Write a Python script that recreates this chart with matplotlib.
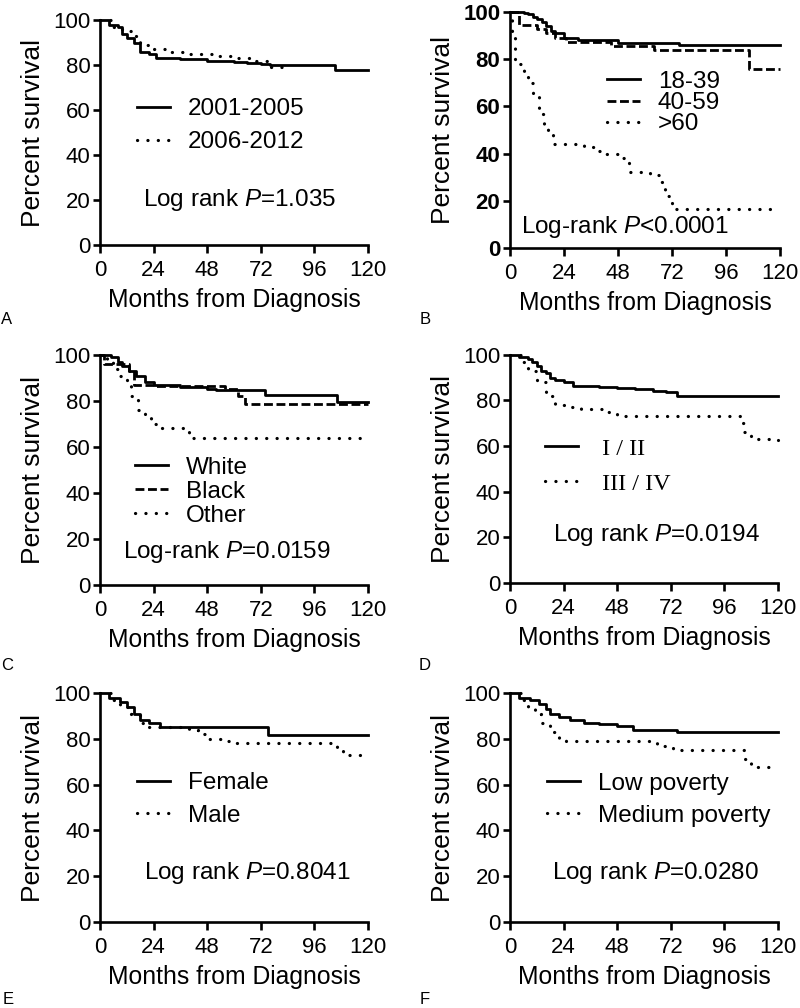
import matplotlib
matplotlib.use('Agg')
import matplotlib.pyplot as plt

plt.rcParams['font.family'] = ['Liberation Sans', 'DejaVu Sans']
plt.rcParams['mathtext.fontset'] = 'custom'
plt.rcParams['mathtext.rm'] = 'Liberation Sans'
plt.rcParams['mathtext.it'] = 'Liberation Sans:italic'

xTicks = [0, 24, 48, 72, 96, 120]
yTicks = [0, 20, 40, 60, 80, 100]

# A: year of diagnosis
a1_t = [0, 4, 8, 10, 12, 15, 18, 22, 25, 36, 48, 60, 66, 72, 76, 105, 120]
a1_s = [100, 98, 97, 94, 92, 90, 86, 85, 83, 82.5, 82, 81.5, 81, 80.5, 80, 78, 78]
a2_t = [0, 6, 10, 14, 18, 22, 30, 40, 50, 60, 70, 76, 82]
a2_s = [100, 97, 95, 93, 89, 87, 86, 85, 84, 83, 82, 79, 79]

# B: age group
b1_t = [0, 6, 8, 10, 12, 14, 16, 18, 20, 24, 30, 48, 73, 75, 120]
b1_s = [100, 99.5, 99, 98, 97, 96, 94, 92, 91, 89, 88, 87, 87, 86, 86]
b2_t = [0, 4, 12, 16, 20, 25, 45, 64, 104, 106, 120]
b2_s = [100, 94.5, 93, 91, 89, 87.5, 85.5, 84, 84, 76, 76]
b3_t = [0, 1, 2, 6, 8, 10, 13, 15, 17, 19, 33, 38, 41, 50, 53, 62, 66, 69, 72, 120]
b3_s = [100, 92, 78, 75, 70, 64, 57, 52, 48, 44, 43, 41, 40, 38, 32, 31, 28, 22, 16.5, 16.5]

# C: race
c1_t = [0, 5, 8, 10, 13, 16, 20, 24, 36, 48, 52, 56, 74, 106, 120]
c1_s = [100, 99, 97, 95, 93, 91, 88, 87, 86, 85, 84.5, 84.5, 82.5, 79.5, 79.5]
c2_t = [0, 2, 10, 13, 15, 24, 56, 62, 65, 120]
c2_s = [100, 96, 96, 93, 87, 86.5, 85, 82, 78.5, 78.5]
c3_t = [0, 3, 6, 9, 12, 14, 17, 20, 23, 27, 38, 40, 120]
c3_s = [100, 97, 94, 91, 87, 82, 76, 73, 70, 68, 68, 64, 64]

# D: stage
d1_t = [0, 4, 8, 10, 12, 14, 16, 18, 20, 24, 28, 40, 48, 56, 64, 70, 75, 120]
d1_s = [100, 99, 98, 97, 95, 93, 92, 90, 89, 88, 86.5, 86, 85.5, 85, 84, 83.5, 82, 82]
d2_t = [0, 5, 8, 12, 16, 20, 24, 32, 44, 48, 101, 103, 105, 108, 120]
d2_s = [100, 97, 93, 88, 82, 78, 77, 76, 75, 73, 73, 70, 66, 63, 62.5]

# E: sex
e1_t = [0, 4, 9, 12, 15, 18, 22, 27, 73, 75, 120]
e1_s = [100, 98, 96, 94, 91, 88, 87, 85, 85, 81.5, 81.5]
e2_t = [0, 6, 9, 14, 18, 22, 40, 44, 49, 56, 60, 103, 106, 109, 120]
e2_s = [100, 97, 94, 91, 87, 85, 84, 82, 80, 79, 78, 78, 75, 73, 73]

# F: poverty
f1_t = [0, 4, 9, 13, 16, 18, 22, 27, 33, 40, 48, 55, 73, 75, 120]
f1_s = [100, 98, 97, 95, 93, 91, 89.5, 88, 87, 86.5, 85.5, 84, 84, 83, 83]
f2_t = [0, 5, 8, 11, 14, 18, 22, 25, 61, 66, 73, 102, 105, 108, 120]
f2_s = [100, 97, 94, 91, 87, 83, 80, 79, 79, 77, 75, 75, 71, 67.5, 67.5]

styles = {'solid': '-', 'dash': (0, (3.2, 1.3)), 'dot': (0, (0.05, 3.2))}


def styleAxis(ax, boldY=False):
    ax.set_xlim(0, 120)
    ax.set_ylim(0, 100)
    ax.set_xticks(xTicks)
    ax.set_yticks(yTicks)
    for s in ['top', 'right']:
        ax.spines[s].set_visible(False)
    for s in ['left', 'bottom']:
        ax.spines[s].set_linewidth(1.9)
    ax.tick_params(axis='x', direction='out', length=6, width=1.9, labelsize=16, pad=5)
    ax.tick_params(axis='y', direction='out', length=5, width=1.9, labelsize=16, pad=2)
    if boldY:
        for lab in ax.get_yticklabels():
            lab.set_fontweight('bold')
    ax.set_xlabel('Months from Diagnosis', fontsize=17.8, labelpad=5)
    ax.set_ylabel('Percent survival', fontsize=19, labelpad=6)


def plotCurves(ax, curves, legAnchor, legSpacing, note, noteXY, legFont=None):
    for t, s, ls, lab in curves:
        ax.plot(t, s, drawstyle='steps-post', color='black',
                lw=2.3 if ls == 'dot' else 2, linestyle=styles[ls], label=lab,
                clip_on=False, dash_capstyle='round' if ls == 'dot' else 'butt')
    leg = ax.legend(loc='center left', bbox_to_anchor=legAnchor, frameon=False,
                    fontsize=17.5, handlelength=1.35, handletextpad=0.75,
                    labelspacing=legSpacing, borderpad=0, borderaxespad=0)
    if legFont:
        for txt in leg.get_texts():
            txt.set_fontfamily(legFont)
    ax.text(noteXY[0], noteXY[1], note, transform=ax.transAxes, fontsize=17.5,
            ha='center', va='center')


fig = plt.figure(figsize=(8, 10.08), dpi=100)
axA = fig.add_axes([0.125, 0.757, 0.335, 0.223])
axB = fig.add_axes([0.6375, 0.754, 0.3375, 0.234])
axC = fig.add_axes([0.125, 0.420, 0.335, 0.228])
axD = fig.add_axes([0.6375, 0.422, 0.335, 0.226])
axE = fig.add_axes([0.125, 0.0853, 0.335, 0.2272])
axF = fig.add_axes([0.6375, 0.0853, 0.335, 0.2272])

styleAxis(axA)
plotCurves(axA, [(a1_t, a1_s, 'solid', '2001-2005'), (a2_t, a2_s, 'dot', '2006-2012')],
           (0.138, 0.531), 0.45, 'Log rank $P$=1.035', (0.522, 0.2))

styleAxis(axB, boldY=True)
plotCurves(axB, [(b1_t, b1_s, 'solid', '18-39'), (b2_t, b2_s, 'dash', '40-59'),
                 (b3_t, b3_s, 'dot', '>60')],
           (0.359, 0.614), -0.03, 'Log-rank $P$<0.0001', (0.426, 0.089))

styleAxis(axC)
plotCurves(axC, [(c1_t, c1_s, 'solid', 'White'), (c2_t, c2_s, 'dash', 'Black'),
                 (c3_t, c3_s, 'dot', 'Other')],
           (0.131, 0.404), 0.08, 'Log-rank $P$=0.0159', (0.474, 0.143))

styleAxis(axD)
plotCurves(axD, [(d1_t, d1_s, 'solid', ' I / II'), (d2_t, d2_s, 'dot', ' III / IV')],
           (0.131, 0.511), 0.53, 'Log rank $P$=0.0194', (0.546, 0.21),
           legFont=['Liberation Serif', 'DejaVu Serif'])

styleAxis(axE)
plotCurves(axE, [(e1_t, e1_s, 'solid', 'Female'), (e2_t, e2_s, 'dot', 'Male')],
           (0.138, 0.535), 0.45, 'Log rank $P$=0.8041', (0.549, 0.214))

styleAxis(axF)
plotCurves(axF, [(f1_t, f1_s, 'solid', 'Low poverty'), (f2_t, f2_s, 'dot', 'Medium poverty')],
           (0.138, 0.533), 0.41, 'Log rank $P$=0.0280', (0.541, 0.214))

for lab, x, y in [('A', 7, 320), ('B', 425, 319), ('C', 7, 665),
                  ('D', 425, 665), ('E', 8, 999), ('F', 425, 999)]:
    fig.text(x / 800, 1 - y / 1008, lab, fontsize=12, ha='center', va='center')

fig.savefig('out.png', dpi=100)
